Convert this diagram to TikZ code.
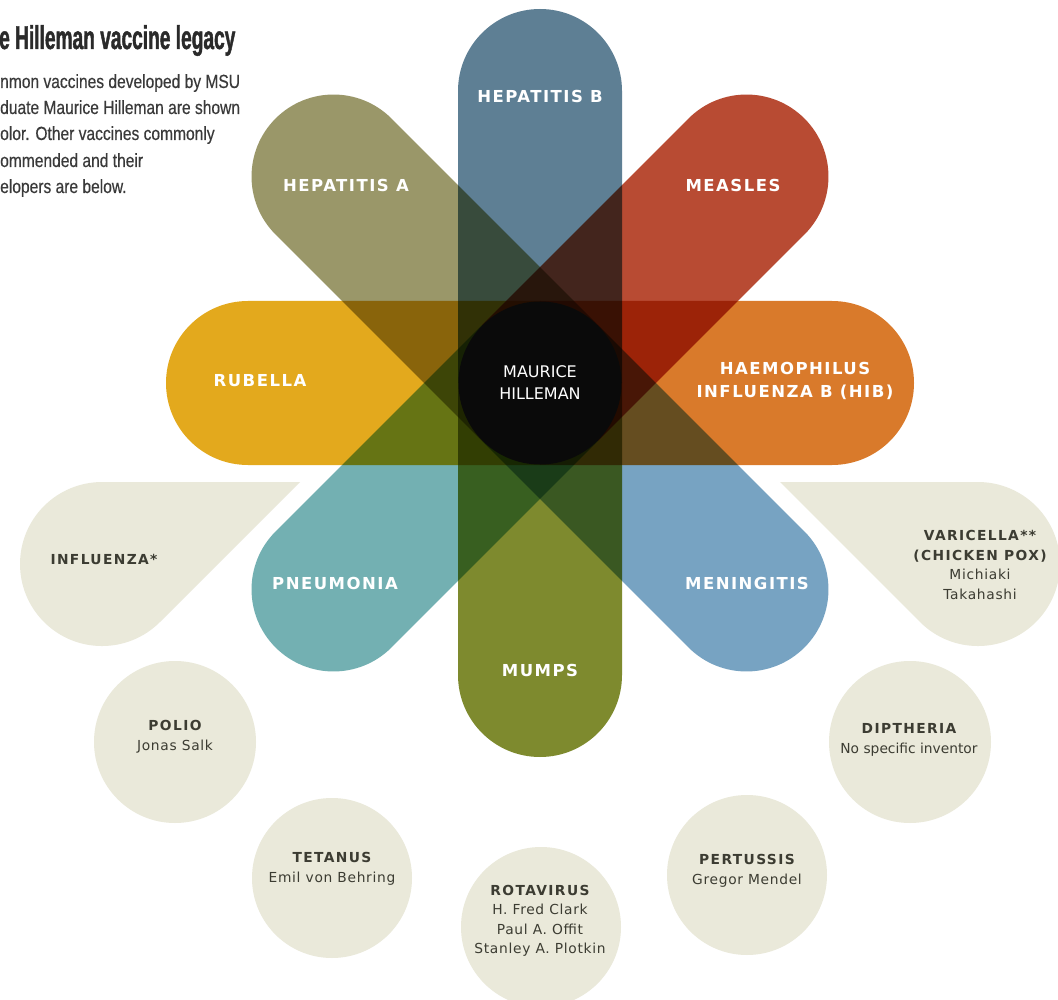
\documentclass[tikz,border=0pt]{standalone}
\usepackage{fontspec}
\setmainfont{DejaVu Sans}
\newfontfamily\petalfont[LetterSpace=9]{DejaVu Sans}
\newfontfamily\headfont[LetterSpace=10]{DejaVu Sans}
\newfontfamily\namefont[LetterSpace=5]{DejaVu Sans}
\newfontfamily\centerfont{DejaVu Sans}
\newfontfamily\titlefont[FakeStretch=0.58,FakeBold=1.2]{Liberation Sans}
\newfontfamily\bodyfont[FakeStretch=0.82,FakeBold=0.4]{Liberation Sans}
\definecolor{hepb}{HTML}{5E7F94}
\definecolor{hepa}{HTML}{9A9769}
\definecolor{measles}{HTML}{B84B33}
\definecolor{rubella}{HTML}{E3A91D}
\definecolor{hib}{HTML}{D97A2B}
\definecolor{pneu}{HTML}{73B0B2}
\definecolor{mumps}{HTML}{7E8A2E}
\definecolor{menin}{HTML}{77A3C2}
\definecolor{pillgray}{HTML}{EAE9DA}
\definecolor{txtgray}{HTML}{3C3C32}
\definecolor{titlecol}{HTML}{2A2A2A}
\definecolor{bodycol}{HTML}{3A3A3A}
\definecolor{centerblack}{HTML}{0A0A0A}
\tikzset{
  petallabel/.style={text=white, inner sep=0, align=center,
    font=\petalfont\bfseries\fontsize{16.5}{23}\selectfont},
  graylabel/.style={text=txtgray, inner sep=0, align=center,
    font=\fontsize{13.8}{19.5}\selectfont},
  pillshape/.style={fill=pillgray},
  bodyline/.style={anchor=base west, inner sep=0, text=bodycol,
    font=\bodyfont\fontsize{19}{26}\selectfont},
}
\begin{document}
\begin{tikzpicture}[x=1pt,y=-1pt]
\useasboundingbox (0,0) rectangle (1058,1000);
\fill[white] (0,0) rectangle (1058,1000);

% title and intro
\node[anchor=base west, inner sep=0, text=titlecol,
  font=\titlefont\bfseries\fontsize{33}{33}\selectfont] (title) at (-1,49) {e Hilleman vaccine legacy};
\node[bodyline] (b1) at (0,88) {nmon vaccines developed by MSU};
\node[bodyline] (b2) at (0,114) {duate Maurice Hilleman are shown};
\node[bodyline] (b3) at (0,140) {olor. Other vaccines commonly};
\node[bodyline] (b4) at (0,167) {ommended and their};
\node[bodyline] (b5) at (0,193) {elopers are below.};

% petals
\begin{scope}[blend mode=multiply]
\foreach \ang/\col in {90/hepb,135/hepa,45/measles,180/rubella,0/hib,225/pneu,270/mumps,315/menin}{
  \fill[\col, shift={(540,383)}, rotate=\ang]
    (0,-82) -- (292,-82) arc[start angle=-90, end angle=90, radius=82] -- (0,82) -- cycle;
}
\end{scope}

% centre
\node[circle, fill=centerblack, minimum size=163pt, inner sep=0, text=white, align=center,
  font=\centerfont\fontsize{16}{22}\selectfont] (mh) at (540,383) {MAURICE\\HILLEMAN};

% petal labels
\node[petallabel] (lhepb) at (540,96) {HEPATITIS B};
\node[petallabel] (lhepa) at (346,185) {HEPATITIS A};
\node[petallabel] (lmeas) at (733,185) {MEASLES};
\node[petallabel] (lrub) at (260,381) {RUBELLA};
\node[petallabel] (lhib) at (795,381) {HAEMOPHILUS\\INFLUENZA B (HIB)};
\node[petallabel] (lpneu) at (335,583) {PNEUMONIA};
\node[petallabel] (lmen) at (747,583) {MENINGITIS};
\node[petallabel] (lmum) at (540,670) {MUMPS};

% other vaccines
\fill[pillshape] (102,482) -- (300,482) -- (160,622) arc[start angle=45, end angle=270, radius=82] -- cycle;
\fill[pillshape] (978,482) -- (780,482) -- (920,622) arc[start angle=135, end angle=-90, radius=82] -- cycle;
\fill[pillshape] (175,742) circle[radius=81];
\fill[pillshape] (332,878) circle[radius=80];
\fill[pillshape] (541,927) circle[radius=80];
\fill[pillshape] (747,875) circle[radius=80];
\fill[pillshape] (910,742) circle[radius=81];

\node[graylabel] (linf) at (104,559) {{\headfont\bfseries INFLUENZA*}};
\node[graylabel] (lvar) at (980,565) {{\headfont\bfseries VARICELLA**}\\{\headfont\bfseries (CHICKEN POX)}\\{\namefont Michiaki}\\{\namefont Takahashi}};
\node[graylabel] (lpol) at (175,737) {{\headfont\bfseries POLIO}\\{\namefont Jonas Salk}};
\node[graylabel] (ltet) at (332,869) {{\headfont\bfseries TETANUS}\\{\namefont Emil von Behring}};
\node[graylabel] (lrot) at (540,921) {{\headfont\bfseries ROTAVIRUS}\\{\namefont H. Fred Clark}\\{\namefont Paul A. Offit}\\{\namefont Stanley A. Plotkin}};
\node[graylabel] (lper) at (747,871) {{\headfont\bfseries PERTUSSIS}\\{\namefont Gregor Mendel}};
\node[graylabel] (ldip) at (909,740) {{\headfont\bfseries DIPTHERIA}\\{\centerfont No specific inventor}};
\end{tikzpicture}
\end{document}
